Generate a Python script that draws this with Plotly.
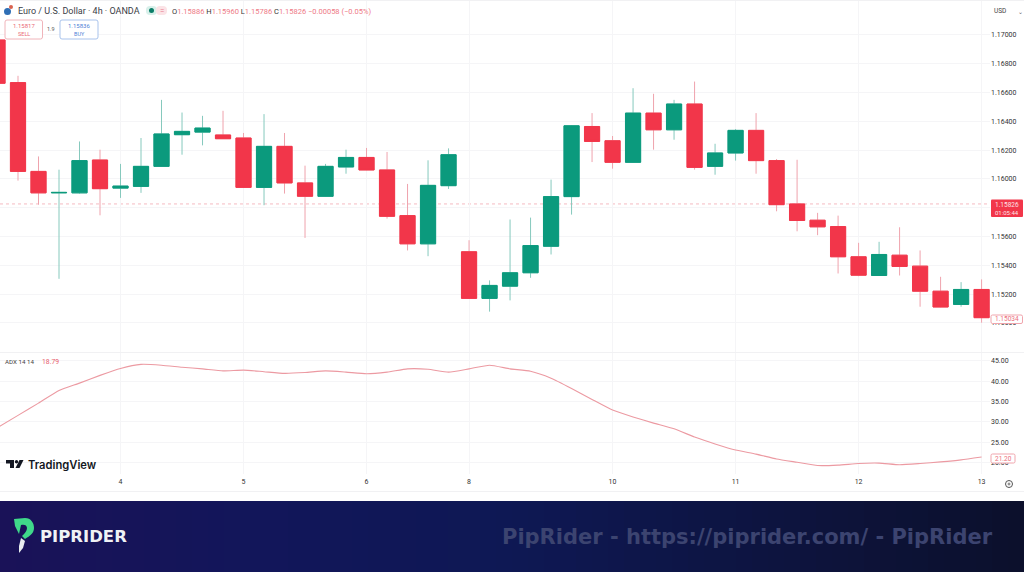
import plotly.graph_objects as go

# EUR/USD 4h candles
opens = [1.16965, 1.16669, 1.16052, 1.15903, 1.15903, 1.16131, 1.15936, 1.15948, 1.16087, 1.16307,
         1.16325, 1.16305, 1.16284, 1.15941, 1.16226, 1.15972, 1.15879, 1.16083, 1.16149, 1.16062,
         1.15745, 1.15549, 1.15953, 1.15494, 1.15170, 1.15255, 1.15348, 1.15532, 1.15877, 1.16364,
         1.16265, 1.16115, 1.16457, 1.16341, 1.16520, 1.16087, 1.16180, 1.16337, 1.16127, 1.15826,
         1.15713, 1.15669, 1.15459, 1.15329, 1.15470, 1.15394, 1.15220, 1.15128, 1.15232]
closes = [1.16664, 1.16052, 1.15903, 1.15906, 1.16127, 1.15932, 1.15950, 1.16087, 1.16312, 1.16330,
          1.16353, 1.16279, 1.15941, 1.16226, 1.15972, 1.15879, 1.16087, 1.16149, 1.16062, 1.15740,
          1.15549, 1.15955, 1.16168, 1.15170, 1.15260, 1.15348, 1.15537, 1.15877, 1.16369, 1.16260,
          1.16115, 1.16457, 1.16341, 1.16520, 1.16080, 1.16180, 1.16337, 1.16127, 1.15821, 1.15711,
          1.15667, 1.15459, 1.15331, 1.15475, 1.15392, 1.15220, 1.15110, 1.15232, 1.15036]
highs = [1.16985, 1.16716, 1.16156, 1.16064, 1.16260, 1.16203, 1.16104, 1.16284, 1.16549, 1.16461,
         1.16438, 1.16473, 1.16319, 1.16450, 1.16319, 1.16092, 1.16104, 1.16203, 1.16215, 1.16187,
         1.15965, 1.16129, 1.16212, 1.15574, 1.15295, 1.15718, 1.15731, 1.15995, 1.16373, 1.16457,
         1.16298, 1.16630, 1.16591, 1.16549, 1.16676, 1.16244, 1.16346, 1.16457, 1.16138, 1.16133,
         1.15764, 1.15745, 1.15556, 1.15563, 1.15664, 1.15503, 1.15320, 1.15283, 1.15302]
lows = [1.16660, 1.15988, 1.15821, 1.15306, 1.15898, 1.15747, 1.15868, 1.15903, 1.16083, 1.16168,
        1.16233, 1.16277, 1.15939, 1.15817, 1.15898, 1.15590, 1.15877, 1.16036, 1.16060, 1.15724,
        1.15503, 1.15463, 1.15930, 1.15168, 1.15078, 1.15156, 1.15313, 1.15475, 1.15752, 1.16117,
        1.16071, 1.16113, 1.16203, 1.16272, 1.16064, 1.16029, 1.16127, 1.16036, 1.15775, 1.15636,
        1.15609, 1.15343, 1.15324, 1.15327, 1.15329, 1.15112, 1.15108, 1.15112, 1.15001]
adx = [28.6, 31.6, 34.6, 37.7, 39.5, 41.4, 43.1, 44.1, 43.9, 43.4,
       43.0, 42.5, 42.7, 42.3, 41.9, 42.1, 42.5, 42.2, 41.8, 42.2,
       43.0, 42.9, 42.2, 43.0, 43.9, 43.0, 42.4, 40.7, 38.2, 35.5,
       32.9, 31.2, 29.7, 28.3, 26.3, 24.6, 23.1, 22.1, 20.9, 20.1,
       19.3, 19.4, 19.8, 19.9, 19.5, 19.8, 20.2, 20.7, 21.4]

day_ticks = [6, 12, 18, 23, 30, 36, 42, 48]
day_labels = ["4", "5", "6", "8", "10", "11", "12", "13"]
price_ticks = [1.170, 1.168, 1.166, 1.164, 1.162, 1.160, 1.158, 1.156, 1.154, 1.152, 1.150]
# 1.15800 sits under the last price tag, so it gets no label
price_labels = ["1.17000", "1.16800", "1.16600", "1.16400", "1.16200", "1.16000", "",
                "1.15600", "1.15400", "1.15200", "1.15000"]
adx_ticks = [20, 25, 30, 35, 40, 45]
last_price = 1.15826

GREEN = "#0b9a7d"
RED = "#f2364a"
GREEN_WICK = "#86c9bd"
RED_WICK = "#efa3ad"
GRID = "#f5f5f7"
W, H = 1024, 572


def rounded(x0, y0, x1, y1, r=2):
    """Rounded rectangle as an svg path, in pixels."""
    return (f"M{x0+r} {y0} H{x1-r} Q{x1} {y0} {x1} {y0+r} V{y1-r} Q{x1} {y1} {x1-r} {y1} "
            f"H{x0+r} Q{x0} {y1} {x0} {y1-r} V{y0+r} Q{x0} {y0} {x0+r} {y0} Z")


def deco(**kw):
    return dict(xref="x3", yref="y3", layer="above", **kw)


def label(x, y, text, size=7, color="#333", anchor="center", family="Roboto", weight="normal"):
    return dict(xref="x3", yref="y3", x=x, y=y, text=text, showarrow=False, xanchor=anchor,
                yanchor="middle", font=dict(size=size, color=color, family=family, weight=weight))


xs = list(range(len(opens)))
fig = go.Figure()

# wicks first, then solid bodies on top so the wick can stay paler
fig.add_trace(go.Candlestick(
    x=xs, open=opens, high=highs, low=lows, close=closes,
    increasing=dict(line=dict(color=GREEN_WICK, width=1), fillcolor="rgba(0,0,0,0)"),
    decreasing=dict(line=dict(color=RED_WICK, width=1), fillcolor="rgba(0,0,0,0)"),
    xaxis="x", yaxis="y", showlegend=False,
))
fig.add_trace(go.Candlestick(
    x=xs, open=opens, close=closes,
    high=[max(o, c) for o, c in zip(opens, closes)],
    low=[min(o, c) for o, c in zip(opens, closes)],
    increasing=dict(line=dict(color=GREEN, width=1), fillcolor=GREEN),
    decreasing=dict(line=dict(color=RED, width=1), fillcolor=RED),
    xaxis="x", yaxis="y", showlegend=False,
))
fig.add_trace(go.Scatter(
    x=xs, y=adx, mode="lines", line=dict(color="#ec9aa2", width=1.1, shape="spline", smoothing=0.5),
    xaxis="x2", yaxis="y2", showlegend=False,
))

shapes = []
# footer band, navy fading to near black on the right
band_stops = [(26, 18, 88), (18, 22, 90), (14, 24, 84), (13, 20, 64), (12, 16, 44)]
for i in range(64):
    t = i / 63 * (len(band_stops) - 1)
    k = min(int(t), len(band_stops) - 2)
    c = [round(a + (b - a) * (t - k)) for a, b in zip(band_stops[k], band_stops[k + 1])]
    shapes.append(deco(type="rect", x0=i * 16, x1=(i + 1) * 16, y0=501, y1=572,
                       fillcolor=f"rgb({c[0]},{c[1]},{c[2]})", line_width=0))

# frame lines
for y in (0.5, 352.5, 491.5):
    shapes.append(deco(type="line", x0=0, x1=W, y0=y, y1=y, line=dict(color="#f1f1f3", width=1)))

# last price line
shapes.append(dict(type="line", xref="x3", yref="y", x0=0, x1=990, y0=last_price, y1=last_price,
                   layer="below", line=dict(color="#f2a9b1", width=0.8, dash="dot")))

# header: currency icon, status pill, sell and buy boxes
shapes += [
    deco(type="circle", x0=4, x1=11, y0=8, y1=15, fillcolor="#2f6fb5", line_width=0),
    deco(type="circle", x0=9, x1=13, y0=5, y1=9, fillcolor="#d9624f", line_width=0),
    deco(type="path", path=rounded(146, 6, 157, 15, 4), fillcolor="#d8f0ea", line_width=0),
    deco(type="path", path=rounded(156, 6, 167, 15, 4), fillcolor="#fbe3e6", line_width=0),
    deco(type="circle", x0=149, x1=154, y0=8, y1=13, fillcolor="#0b7d68", line_width=0),
    deco(type="path", path=rounded(5, 20, 42.5, 39), fillcolor="white", line=dict(color="#f0b4ba", width=1)),
    deco(type="path", path=rounded(60, 20, 98, 39), fillcolor="white", line=dict(color="#a9c3ec", width=1)),
]

# price tags on the right scale
shapes += [
    deco(type="path", path=rounded(991, 199.5, 1023, 217, 1), fillcolor="#f2364a", line_width=0),
    deco(type="path", path=rounded(991, 315, 1022.5, 323.5, 1.5), fillcolor="white",
         line=dict(color="#f0a5ad", width=1)),
    deco(type="path", path=rounded(991, 454, 1015, 463, 1.5), fillcolor="white",
         line=dict(color="#f0a5ad", width=1)),
]

# settings gear
shapes += [
    deco(type="circle", x0=1005.5, x1=1012.5, y0=480.5, y1=487.5, line=dict(color="#555", width=1)),
    deco(type="circle", x0=1008, x1=1010, y0=483, y1=485, line=dict(color="#555", width=0.8)),
]

# TradingView mark
shapes += [
    deco(type="path", path="M6 460 H14 V468 H10 V463.5 H6 Z", fillcolor="#131722", line_width=0),
    deco(type="circle", x0=14.8, x1=18.2, y0=460, y1=463.4, fillcolor="#131722", line_width=0),
    deco(type="path", path="M23.5 460 L19.5 468 H15.5 L19.5 460 Z", fillcolor="#131722", line_width=0),
]

# PipRider mark
shapes += [
    deco(type="path", fillcolor="#3fd98a", line_width=0,
         path="M14 519 L25 518 C31 518 34 523 34 528 C34 533 30 536 25 539 L22 536 "
              "C25 533 27 531 27 528 C27 525 24 524 21 525 L19 534 L15 526 Z"),
    deco(type="path", fillcolor="#e8ecef", line_width=0,
         path="M21 538 L25 541 L23 548 L19 553 L19 546 Z"),
]

ohlc = ("<span style='color:#333'>O</span>1.15886 <span style='color:#333'>H</span>1.15960 "
        "<span style='color:#333'>L</span>1.15786 <span style='color:#333'>C</span>1.15826 "
        "\u22120.00058 (\u22120.05%)")

annotations = [
    label(15.5, 11, "Euro / U.S. Dollar \u00b7 4h \u00b7 OANDA", size=9, color="#3a3d46", anchor="left"),
    label(170, 11, ohlc, size=7.5, color="#ee7a86", anchor="left"),
    label(161.5, 10.5, "=", size=8, color="#e8788a"),
    label(23.7, 25.5, "1.15817", size=6, color="#ea6a78"),
    label(23.7, 33.5, "SELL", size=5.5, color="#ea6a78"),
    label(51, 29, "1.9", size=5.5, color="#555"),
    label(79, 25.5, "1.15836", size=6, color="#4f7fd6"),
    label(79, 33.5, "BUY", size=5.5, color="#4f7fd6"),
    label(1000, 11, "USD", size=6.5, color="#444"),
    label(1020.5, 11, "\u2304", size=6, color="#666"),
    label(1007, 204.5, f"{last_price:.5f}", size=6.5, color="#fde3e6"),
    label(1007, 212.5, "01:05:44", size=6, color="#fde3e6"),
    label(1007, 319.3, "1.15034", size=6.5, color="#ec6d7a"),
    label(1003, 458.7, "21.20", size=6.5, color="#ec6d7a"),
    label(3, 361.5, "ADX 14 14", size=6.2, color="#444", anchor="left"),
    label(39.5, 361.5, "18.79", size=6.8, color="#e8606e", anchor="left"),
    label(26, 464.5, "TradingView", size=11.2, color="#131722", anchor="left", family="Inter", weight=600),
    label(37.5, 536, "<b>PIPRIDER</b>", size=16.5, color="#f0f2f5", anchor="left", family="DejaVu Sans"),
    label(499.5, 537, "<b>PipRider - https://piprider.com/ - PipRider</b>", size=21, color="#3c4470",
          anchor="left", family="DejaVu Sans"),
]

# pixel to data calibration for the panes
x_range = [0.122, 48.41]
tick_font = dict(size=7, color="#333", family="Roboto")
shared_x = dict(range=x_range, domain=[0, 990 / W], tickmode="array", tickvals=day_ticks,
                showgrid=True, gridcolor=GRID, gridwidth=1, zeroline=False, rangeslider=dict(visible=False))

fig.update_layout(
    width=W, height=H, autosize=False,
    margin=dict(l=0, r=0, t=0, b=0),
    paper_bgcolor="white", plot_bgcolor="rgba(0,0,0,0)",
    boxmode="overlay", boxgap=0.26, boxgroupgap=0,
    hovermode=False, showlegend=False,
    xaxis=dict(anchor="y", ticktext=[""] * len(day_ticks), showticklabels=False, **shared_x),
    xaxis2=dict(anchor="y2", ticktext=day_labels, ticks="", tickfont=tick_font, ticklabelstandoff=2, **shared_x),
    yaxis=dict(domain=[(H - 352) / H, 1], range=[1.147976, 1.172426], side="right", anchor="x",
               tickmode="array", tickvals=price_ticks, ticktext=price_labels, tickfont=tick_font,
               ticks="", showgrid=True, gridcolor=GRID, zeroline=False),
    yaxis2=dict(domain=[(H - 474) / H, (H - 352) / H], range=[17.23, 47.13], side="right", anchor="x2",
                tickmode="array", tickvals=adx_ticks, tickformat=".2f", tickfont=tick_font,
                ticks="", showgrid=True, gridcolor=GRID, zeroline=False),
    xaxis3=dict(domain=[0, 1], range=[0, W], visible=False, anchor="y3", fixedrange=True),
    yaxis3=dict(domain=[0, 1], range=[H, 0], visible=False, anchor="x3", fixedrange=True),
    shapes=shapes,
    annotations=annotations,
)

fig.write_html("out.html", config=dict(displayModeBar=False),
               post_script="document.body.style.margin='0';document.body.style.overflow='hidden';")
